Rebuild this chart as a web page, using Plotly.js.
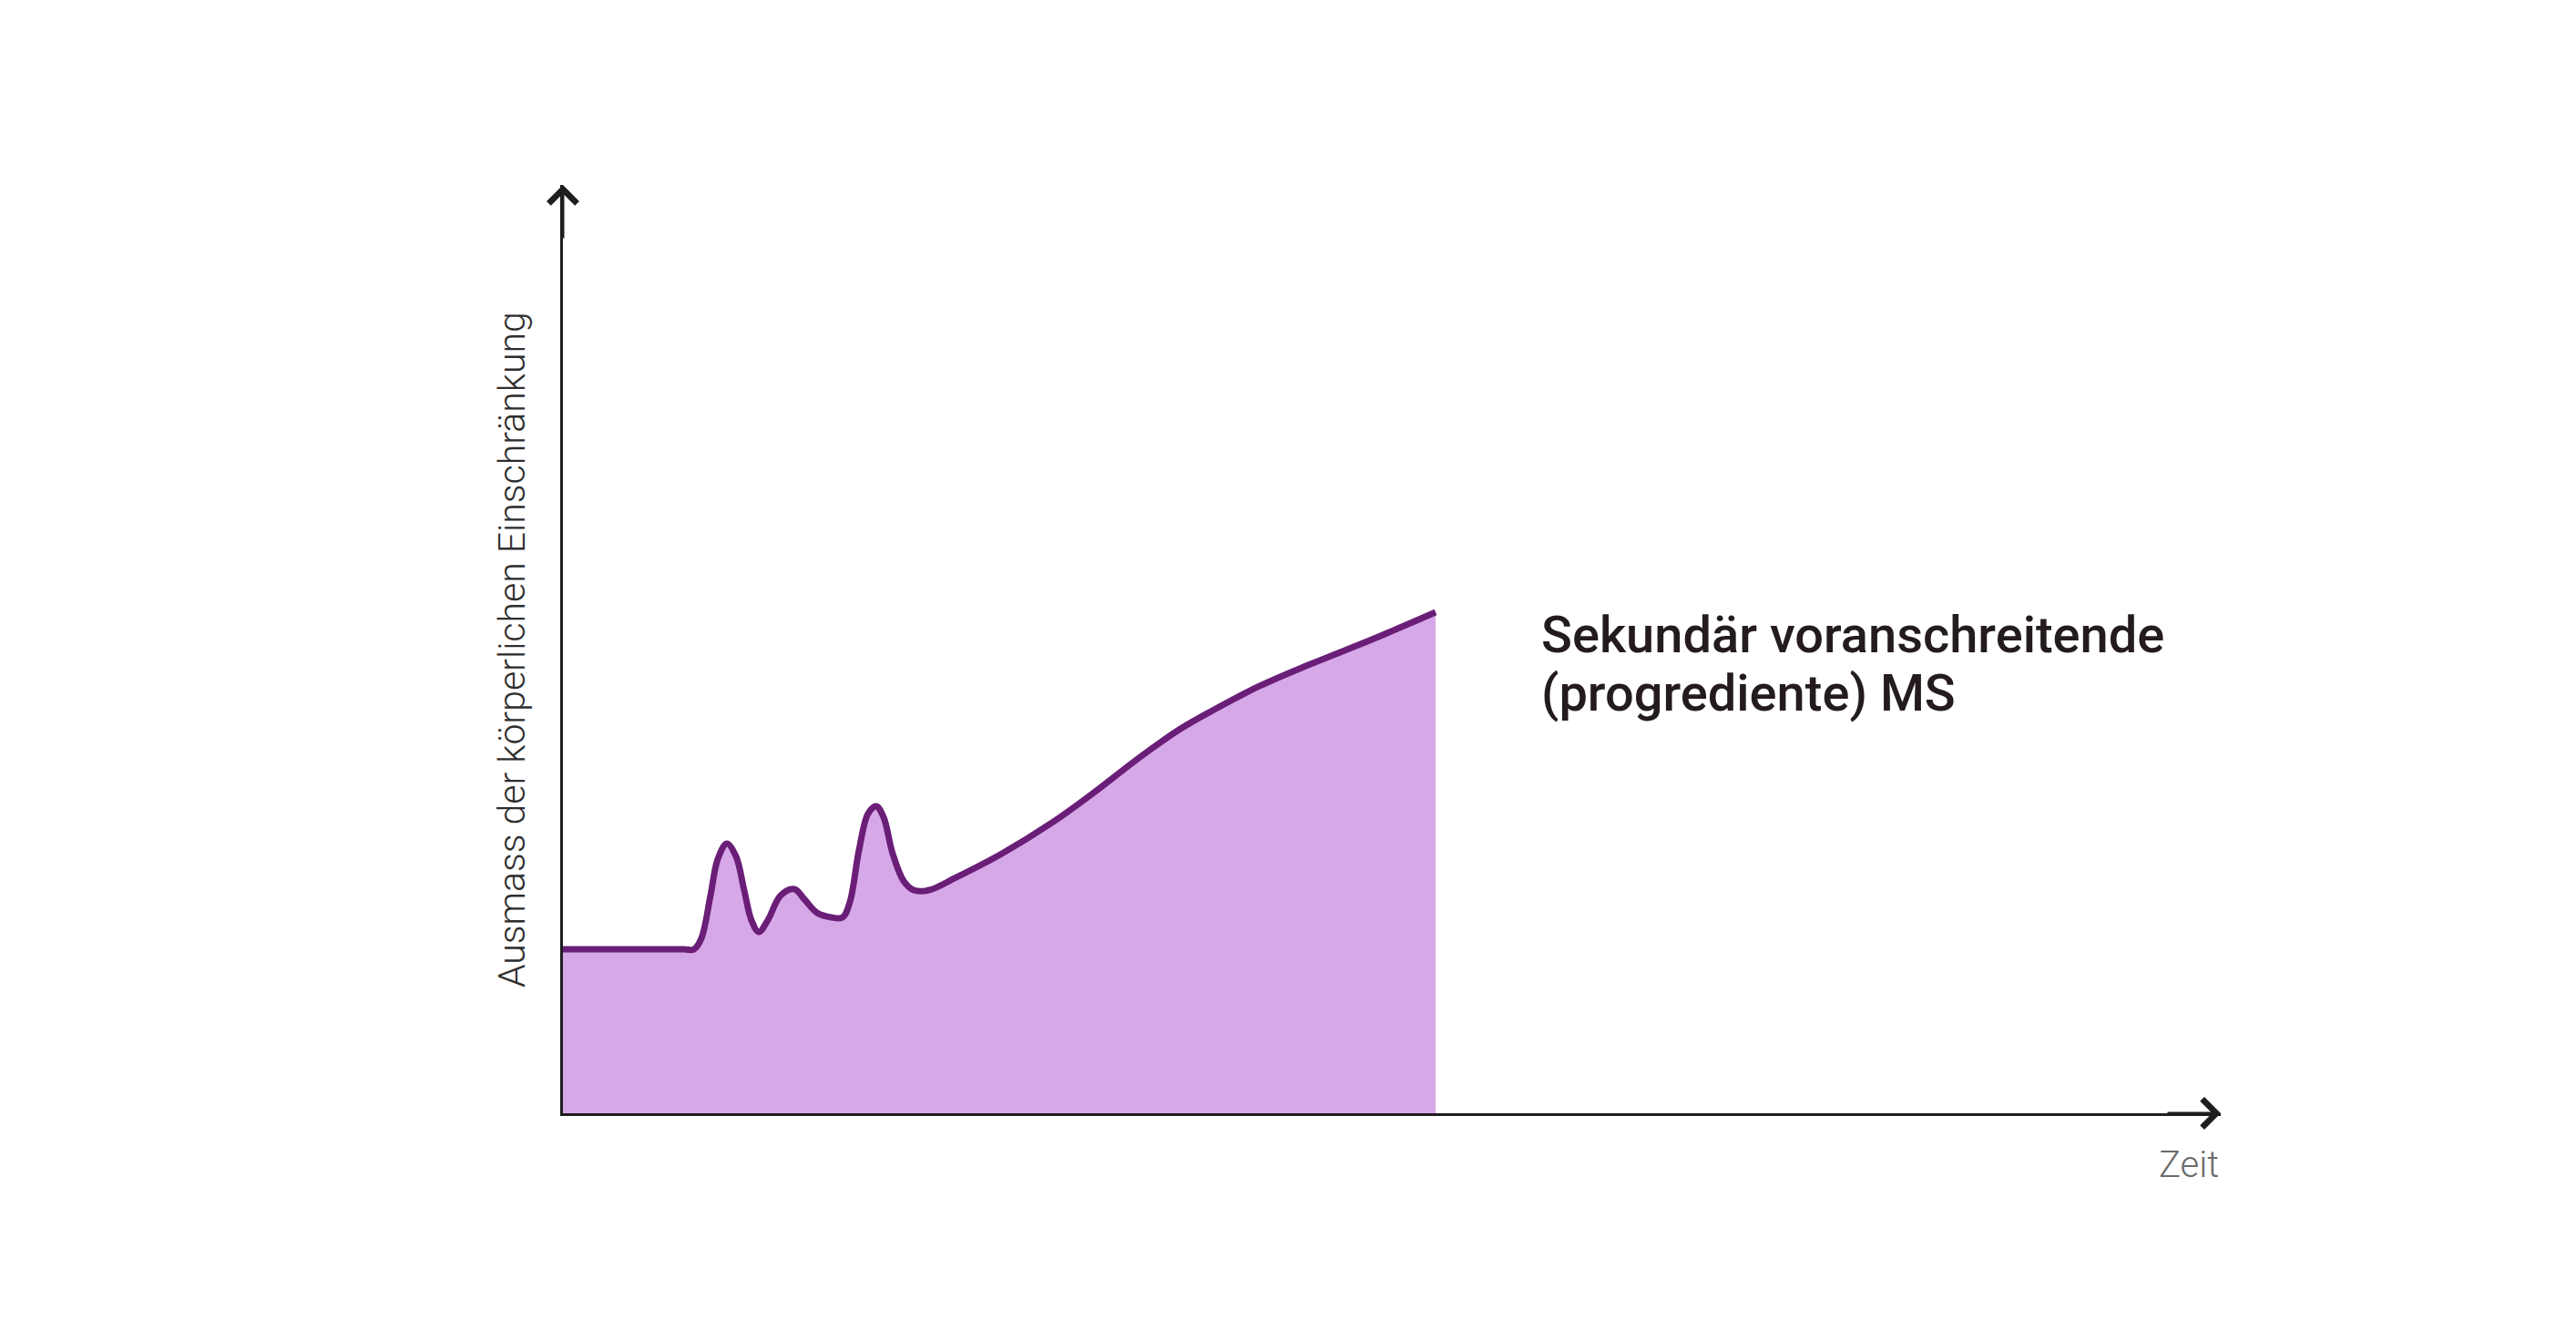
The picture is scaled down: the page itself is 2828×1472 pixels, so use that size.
<!DOCTYPE html>
<html>
<head>
<meta charset="utf-8">
<script src="https://cdn.plot.ly/plotly-3.0.1.min.js"></script>
<style>html,body{margin:0;padding:0;background:#fff;}#chart{width:2828px;height:1472px;}</style>
</head>
<body>
<div id="chart"></div>
<script>
// Time (x, arbitrary units 0-100) and degree of disability (y, arbitrary units 0-100)
var zeit = [0, 4, 7.3, 7.9, 8.35, 8.9, 9.34, 9.89, 10.44, 10.93, 11.37, 11.81, 12.36, 13.13, 13.96, 14.56, 15.33, 16.21, 16.87, 17.31, 17.86, 18.41, 18.9, 19.34, 19.89, 20.55, 21.15, 22.09, 23.74, 26.48, 29.51, 31.81, 34.89, 37.25, 39.18, 42.03, 44.95, 48.79, 52.64];
var einschraenkung = [17.66, 17.66, 17.66, 17.66, 18.84, 23.45, 27.38, 29.05, 27.67, 24.04, 20.8, 19.53, 20.8, 23.45, 24.14, 23.06, 21.59, 21.1, 21.1, 22.77, 28.36, 32.29, 33.07, 31.89, 27.97, 25.02, 24.04, 24.04, 25.42, 27.97, 31.31, 34.25, 38.47, 41.41, 43.38, 46.03, 48.28, 51.03, 53.97];

var yTitle = "Ausmass der körperlichen Einschränkung";
var xTitle = "Zeit";
var labelLines = ["Sekundär voranschreitende", "(progrediente) MS"];

var trace = {
  x: zeit,
  y: einschraenkung,
  type: 'scatter',
  mode: 'lines',
  line: {color: '#6a1e78', width: 7, shape: 'spline', smoothing: 1},
  fill: 'tozeroy',
  fillcolor: '#d7a8e7',
  hoverinfo: 'skip'
};

var axisCommon = {
  range: [0, 100],
  showgrid: false,
  zeroline: false,
  showticklabels: false,
  ticks: '',
  showline: true,
  linecolor: '#1e1e1e',
  linewidth: 3,
  fixedrange: true
};

var labelFont = {family: 'Roboto, sans-serif', size: 56, color: '#241c1c', weight: 500};

var layout = {
  width: 2828,
  height: 1472,
  margin: {l: 618, r: 390, t: 203, b: 250, pad: 0},
  paper_bgcolor: '#ffffff',
  plot_bgcolor: '#ffffff',
  showlegend: false,
  xaxis: Object.assign({}, axisCommon),
  yaxis: Object.assign({}, axisCommon),
  font: {family: 'Roboto, sans-serif'},
  annotations: [
    {
      xref: 'paper', yref: 'paper', x: 1, y: 0,
      ax: -60, ay: 0, axref: 'pixel', ayref: 'pixel',
      text: '', showarrow: true, arrowhead: 4, arrowsize: 2, arrowwidth: 3, arrowcolor: '#1e1e1e', standoff: 0
    },
    {
      xref: 'paper', yref: 'paper', x: 0, y: 1,
      ax: 0, ay: 60, axref: 'pixel', ayref: 'pixel',
      text: '', showarrow: true, arrowhead: 4, arrowsize: 2, arrowwidth: 3, arrowcolor: '#1e1e1e', standoff: 0
    },
    {
      xref: 'paper', yref: 'paper', x: -0.031, y: 0.499,
      xanchor: 'center', yanchor: 'middle', textangle: -90,
      text: yTitle, showarrow: false,
      font: {family: 'Roboto, sans-serif', size: 41, color: '#2e2e2e', weight: 300}
    },
    {
      xref: 'paper', yref: 'paper', x: 1, y: -0.055,
      xanchor: 'right', yanchor: 'middle',
      text: xTitle, showarrow: false,
      font: {family: 'Roboto, sans-serif', size: 40, color: '#6a6a6a', weight: 300}
    },
    {
      xref: 'paper', yref: 'paper', x: 0.589, y: 0.515,
      xanchor: 'left', yanchor: 'middle', align: 'left',
      text: labelLines[0], showarrow: false, font: labelFont
    },
    {
      xref: 'paper', yref: 'paper', x: 0.589, y: 0.452,
      xanchor: 'left', yanchor: 'middle', align: 'left',
      text: labelLines[1], showarrow: false, font: labelFont
    }
  ]
};

Plotly.newPlot('chart', [trace], layout, {displayModeBar: false, staticPlot: true});
</script>
</body>
</html>
